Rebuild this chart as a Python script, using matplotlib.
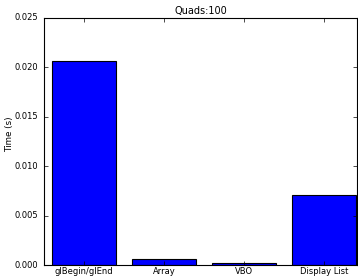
import matplotlib
matplotlib.use("Agg")
import matplotlib.pyplot as plt

# render times per method
methods = ["glBegin/glEnd", "Array", "VBO", "Display List"]
times = [0.02065, 0.00058, 0.00017, 0.00705]

plt.style.use("classic")
plt.rcParams["font.size"] = 6

fig = plt.figure(figsize=(3.58, 2.76), dpi=100)
fig.patch.set_facecolor("white")
ax = fig.add_axes([44 / 358, 11 / 276, 313 / 358, 247 / 276])

pos = range(len(methods))
ax.bar(pos, times, width=0.8, align="center", color="blue", edgecolor="black", linewidth=0.8)
ax.set_xticks(list(pos))
ax.set_xticklabels(methods, fontsize=6)
ax.set_xlim(-0.5, 3.41)
ax.set_ylim(0, 0.025)
ax.set_yticks([0.0, 0.005, 0.010, 0.015, 0.020, 0.025])
ax.set_yticklabels(["0.000", "0.005", "0.010", "0.015", "0.020", "0.025"], fontsize=6)
ax.tick_params(axis="x", direction="in", length=3, width=0.5, pad=1.5)
ax.tick_params(axis="y", direction="in", length=3, width=0.5, pad=4)
for s in ax.spines.values():
    s.set_linewidth(0.8)
# y label placed by hand so it stays inside the small figure
fig.text(10 / 358, 1 - 134.5 / 276, "Time (s)", rotation=90, ha="center", va="center", fontsize=6.3)
ax.set_title("Quads:100", fontsize=7, pad=3)

fig.savefig("out.png", dpi=100, facecolor="white")
